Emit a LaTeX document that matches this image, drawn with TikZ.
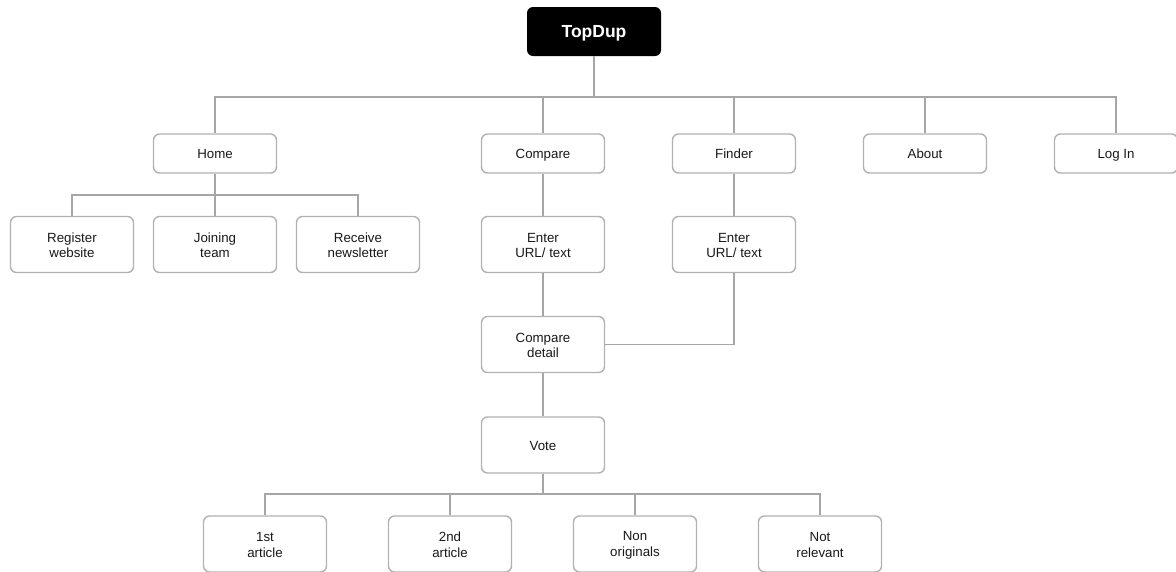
\documentclass[tikz,border=0pt]{standalone}
\usepackage{fontspec}
\setmainfont{Liberation Sans}
\newcommand\tl[1]{\rule{0pt}{12pt}\rule[-1.5pt]{0pt}{1.5pt}#1}
\newcommand\ttl[1]{\rule{0pt}{15pt}\rule[-1.5pt]{0pt}{1.5pt}#1}
\begin{document}
\begin{tikzpicture}[x=1pt,y=-1pt,
  basebox/.style={draw=black!30, line width=1.4pt, rounded corners=6pt, fill=white,
    minimum width=123pt, inner sep=0pt, align=center, text=black!90,
    font=\fontsize{13.3}{15.5}\selectfont},
  box/.style={basebox, minimum height=39pt},
  tall/.style={basebox, minimum height=56pt},
  topbox/.style={fill=black, rounded corners=6pt, text=white, minimum width=134pt,
    minimum height=49pt, font=\fontsize{17.5}{20}\selectfont\bfseries},
  link/.style={draw=black!35, line width=1.4pt}]
\useasboundingbox (0,0) rectangle (1176,571);
\clip (0,0) rectangle (1176,571);
\fill[white] (0,0) rectangle (1176,571);
% nodes
\node[topbox] (top) at (594,31.5) {\ttl{TopDup}};
\node[box] (home) at (215,153.5) {\tl{Home}};
\node[box] (compare) at (543,153.5) {\tl{Compare}};
\node[box] (finder) at (734,153.5) {\tl{Finder}};
\node[box] (about) at (925,153.5) {\tl{About}};
\node[box] (login) at (1116,153.5) {\tl{Log In}};
\node[tall] (register) at (72,244.5) {\tl{Register}\\\tl{website}};
\node[tall] (joining) at (215,244.5) {\tl{Joining}\\\tl{team}};
\node[tall] (receive) at (358,244.5) {\tl{Receive}\\\tl{newsletter}};
\node[tall] (center) at (543,244.5) {\tl{Enter}\\\tl{URL/ text}};
\node[tall] (fenter) at (734,244.5) {\tl{Enter}\\\tl{URL/ text}};
\node[tall] (detail) at (543,344.5) {\tl{Compare}\\\tl{detail}};
\node[tall] (vote) at (543,445) {\tl{Vote}};
\node[tall] (first) at (265,544) {\tl{1st}\\\tl{article}};
\node[tall] (second) at (450,544) {\tl{2nd}\\\tl{article}};
\node[tall] (nonorig) at (635,544) {\tl{Non}\\\tl{originals}};
\node[tall] (notrel) at (820,544) {\tl{Not}\\\tl{relevant}};
% bus coordinates
\coordinate (bus1) at (594,97);
\coordinate (bus2) at (215,195);
\coordinate (bus3) at (543,494);
% connectors
\foreach \c in {home,compare,finder,about,login}
  \draw[link] (top.south) -- (bus1) -| (\c.north);
\foreach \c in {register,joining,receive}
  \draw[link] (home.south) -- (bus2) -| (\c.north);
\draw[link] (compare.south) -- (center.north);
\draw[link] (finder.south) -- (fenter.north);
\draw[link] (center.south) -- (detail.north);
\draw[link] (fenter.south) |- (detail.east);
\draw[link] (detail.south) -- (vote.north);
\foreach \c in {first,second,nonorig,notrel}
  \draw[link] (vote.south) -- (bus3) -| (\c.north);
\end{tikzpicture}
\end{document}
